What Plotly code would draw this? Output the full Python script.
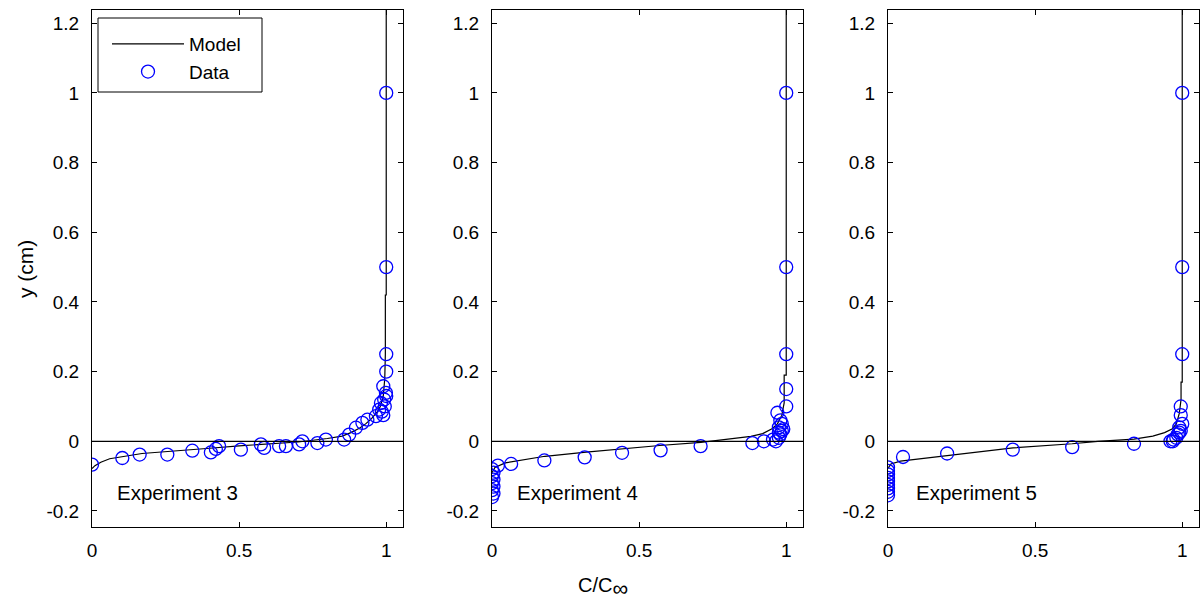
import plotly.graph_objects as go

# ---------------- data ----------------
exp3_data_c = [0.0, 0.103, 0.162, 0.256, 0.341, 0.404, 0.421, 0.432, 0.506, 0.574, 0.585,
               0.636, 0.659, 0.704, 0.715, 0.766, 0.795, 0.857, 0.874, 0.897, 0.919, 0.936,
               0.965, 0.976, 0.982, 0.993, 0.999, 0.99, 0.985, 0.995, 0.99, 1.0,
               1.0, 1.0, 1.0, 1.0]
exp3_data_y = [-0.067, -0.048, -0.038, -0.038, -0.027, -0.032, -0.022, -0.014, -0.024, -0.009, -0.019,
               -0.014, -0.014, -0.009, 0.0, -0.005, 0.005, 0.005, 0.019, 0.039, 0.053, 0.062,
               0.072, 0.091, 0.110, 0.120, 0.139, 0.158, 0.085, 0.10, 0.075, 0.13,
               0.2, 0.25, 0.5, 1.0]
exp3_model_c = [0.0, 0.01, 0.03, 0.06, 0.17, 0.27, 0.4, 0.5, 0.6, 0.7, 0.8, 0.85, 0.88, 0.91,
                0.93, 0.95, 0.97, 0.98, 0.99, 0.995, 0.997, 0.997, 1.0, 1.0]
exp3_model_y = [-0.078, -0.07, -0.06, -0.05, -0.035, -0.029, -0.02, -0.013, -0.007, -0.002, 0.008,
                0.015, 0.025, 0.038, 0.05, 0.065, 0.085, 0.1, 0.13, 0.18, 0.25, 0.42, 0.42, 1.25]

exp4_data_c = [0.0, 0.005, 0.0, 0.005, 0.0, 0.005, 0.0, 0.005, 0.0, 0.02,
               0.065, 0.178, 0.315, 0.442, 0.573, 0.709, 0.885, 0.924,
               0.955, 0.965, 0.975, 0.98, 0.985, 0.975, 0.985, 0.98, 0.99, 0.975, 0.97,
               1.0, 1.0, 1.0, 1.0, 1.0]
exp4_data_y = [-0.16, -0.15, -0.14, -0.13, -0.12, -0.11, -0.10, -0.09, -0.08, -0.07,
               -0.065, -0.055, -0.046, -0.033, -0.026, -0.014, -0.005, 0.0,
               0.005, 0.0, 0.01, 0.02, 0.03, 0.04, 0.05, 0.06, 0.035, 0.025, 0.082,
               0.1, 0.15, 0.25, 0.5, 1.0]
exp4_model_c = [0.0, 0.01, 0.045, 0.18, 0.32, 0.44, 0.57, 0.71, 0.82, 0.88, 0.92, 0.95,
                0.97, 0.985, 0.993, 0.993, 1.0, 1.0]
exp4_model_y = [-0.09, -0.075, -0.062, -0.043, -0.031, -0.021, -0.012, -0.003, 0.007, 0.014,
                0.022, 0.035, 0.05, 0.075, 0.11, 0.19, 0.19, 1.25]

exp5_data_c = [0.0, 0.0, 0.0, 0.0, 0.0, 0.0, 0.0, 0.0, 0.0,
               0.051, 0.201, 0.424, 0.626, 0.836, 0.96,
               0.968, 0.97, 0.98, 0.985, 0.99, 0.995, 0.99, 1.0, 0.995, 0.995,
               1.0, 1.0, 1.0]
exp5_data_y = [-0.075, -0.085, -0.095, -0.105, -0.115, -0.125, -0.135, -0.145, -0.155,
               -0.045, -0.035, -0.024, -0.017, -0.007, 0.0,
               0.0, 0.005, 0.01, 0.02, 0.025, 0.03, 0.04, 0.05, 0.075, 0.1,
               0.25, 0.5, 1.0]
exp5_model_c = [0.0, 0.01, 0.042, 0.2, 0.425, 0.626, 0.713, 0.836, 0.9, 0.94, 0.965, 0.98,
                0.99, 0.996, 0.996, 1.0, 1.0]
exp5_model_y = [-0.078, -0.065, -0.057, -0.042, -0.019, -0.007, 0.0, 0.006, 0.015, 0.025,
                0.035, 0.05, 0.08, 0.12, 0.17, 0.17, 1.25]

panel_titles = ["Experiment 3", "Experiment 4", "Experiment 5"]
interface_y = 0.0
x_ticks = [0, 0.5, 1]
x_tick_text = ["0", "0.5", "1"]
y_ticks = [-0.2, 0, 0.2, 0.4, 0.6, 0.8, 1, 1.2]
y_tick_text = ["-0.2", "0", "0.2", "0.4", "0.6", "0.8", "1", "1.2"]

# ---------------- figure ----------------
FONT = "Liberation Sans, Arial, sans-serif"
W, H = 1204, 611
ML, MR, MT, MB = 92, 5, 10, 84
PW = W - ML - MR
PH = H - MT - MB
panel_px = [(92, 403), (492, 803), (888, 1199)]
domains = [[(a - ML) / PW, (b - ML) / PW] for a, b in panel_px]


def px_x(p):
    return (p - ML) / PW


def px_y(p):
    return 1 - (p - MT) / PH


series = [
    (exp3_model_c, exp3_model_y, exp3_data_c, exp3_data_y),
    (exp4_model_c, exp4_model_y, exp4_data_c, exp4_data_y),
    (exp5_model_c, exp5_model_y, exp5_data_c, exp5_data_y),
]

fig = go.Figure()
for i, (mc, my, dc, dy) in enumerate(series):
    sx = "x" if i == 0 else f"x{i+1}"
    sy = "y" if i == 0 else f"y{i+1}"
    fig.add_trace(go.Scatter(x=mc, y=my, mode="lines", name="Model", legendgroup="model",
                             line=dict(color="black", width=1.2),
                             xaxis=sx, yaxis=sy, showlegend=(i == 0)))
    fig.add_trace(go.Scatter(x=dc, y=dy, mode="markers", name="Data", legendgroup="data",
                             marker=dict(symbol="circle-open", size=13,
                                         color="#0000ff", line=dict(width=1.3, color="#0000ff")),
                             xaxis=sx, yaxis=sy, showlegend=(i == 0)))

axis_common = dict(showline=True, linecolor="black", linewidth=1, mirror="ticks",
                   ticks="inside", ticklen=5, tickcolor="black", showgrid=False,
                   zeroline=False, tickfont=dict(family=FONT, size=19, color="black"))

layout = dict(
    width=W, height=H,
    margin=dict(l=ML, r=MR, t=MT, b=MB),
    paper_bgcolor="white", plot_bgcolor="white",
    font=dict(family=FONT, size=19, color="black"),
    legend=dict(x=px_x(107), y=px_y(25),
                xanchor="left", yanchor="top", borderwidth=0,
                bgcolor="rgba(0,0,0,0)", font=dict(family=FONT, size=19), itemwidth=72,
                tracegroupgap=0),
)
shapes = [dict(type="rect", xref="paper", yref="paper", layer="above",
               x0=px_x(98), x1=px_x(262), y0=px_y(92), y1=px_y(18),
               line=dict(color="black", width=1), fillcolor="white")]
annotations = []
for i in range(3):
    xa = "xaxis" if i == 0 else f"xaxis{i+1}"
    ya = "yaxis" if i == 0 else f"yaxis{i+1}"
    ax_x = "x" if i == 0 else f"x{i+1}"
    ax_y = "y" if i == 0 else f"y{i+1}"
    layout[xa] = dict(axis_common, domain=domains[i], range=[0, 1.057],
                      tickvals=x_ticks, ticktext=x_tick_text, anchor=ax_y,
                      ticklabelstandoff=6)
    layout[ya] = dict(axis_common, domain=[0, 1], range=[-0.246, 1.238],
                      tickvals=y_ticks, ticktext=y_tick_text, anchor=ax_x,
                      ticklabelstandoff=8)
    shapes.append(dict(type="line", xref=f"{ax_x} domain", yref=ax_y,
                       x0=0, x1=1, y0=interface_y, y1=interface_y,
                       line=dict(color="black", width=1.2)))
    annotations.append(dict(text=panel_titles[i], xref=f"{ax_x} domain", yref=ax_y,
                            x=0.075 if i < 2 else 0.085, y=-0.148, xanchor="left",
                            yanchor="middle", showarrow=False,
                            font=dict(family=FONT, size=20.5)))

annotations.append(dict(text="y (cm)", xref="paper", yref="paper",
                        x=px_x(25), y=px_y(269),
                        textangle=-90, showarrow=False, xanchor="center", yanchor="middle",
                        font=dict(family=FONT, size=21)))
annotations.append(dict(text="C/C<sub><span style='font-size:22px'>∞</span></sub>",
                        xref="paper", yref="paper",
                        x=px_x(603), y=px_y(587),
                        showarrow=False, xanchor="center", yanchor="middle",
                        font=dict(family=FONT, size=20)))
layout["shapes"] = shapes
layout["annotations"] = annotations
fig.update_layout(**layout)

fig.write_html("out.html")
